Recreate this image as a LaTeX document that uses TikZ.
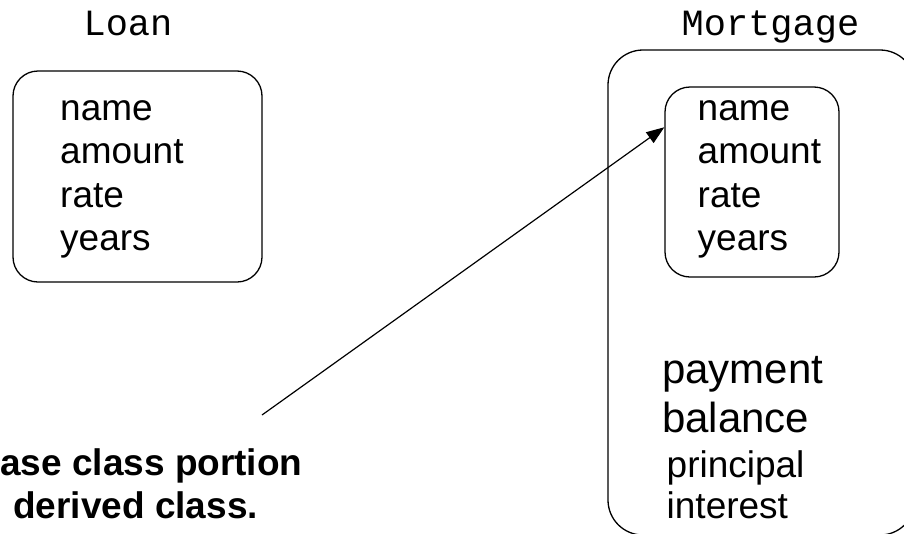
\documentclass[tikz,border=0pt]{standalone}
\usepackage{fontspec}
\setmainfont{Liberation Sans}
\setmonofont{Liberation Mono}
\usetikzlibrary{arrows.meta}
\tikzset{%
	class box/.style={
		rectangle,
		draw=black,
		line width=1.3pt,
		rounded corners=25pt
	},
	class label/.style={
		anchor=base,
		inner sep=0pt,
		font=\ttfamily\fontsize{37}{37}\selectfont
	},
	field/.style={
		anchor=base west,
		inner sep=0pt,
		font=\fontsize{37}{37}\selectfont
	},
	big field/.style={
		field,
		font=\fontsize{42}{42}\selectfont
	},
	note/.style={
		anchor=base west,
		inner sep=0pt,
		font=\bfseries\fontsize{37}{37}\selectfont
	},
}

\begin{document}
\begin{tikzpicture}[x=1pt,y=-1pt]
		\useasboundingbox (0,0) rectangle (904,533);
		% Loan
		\node[class label] (loan-label) at (128,35) {Loan};
		\node[class box, minimum width=249pt, minimum height=211pt] (loan) at (137.5,176.5) {};
		\foreach \f [count=\y] in {name,amount,rate,years}
		\node [field] (loan-\f) at (60, 76.5 + \y*43.5) {\f};
		
		% Mortgage
		\node[class label] (mortgage-label) at (770.5,35) {Mortgage};
		\node[class box, rounded corners=35pt, minimum width=307pt, minimum height=485pt] (mortgage) at (761.5,292.5) {};
		\node[class box, minimum width=174pt, minimum height=190pt] (loan-part) at (752,182) {};
		\foreach \f [count=\y] in {name,amount,rate,years}
		\node [field] (part-\f) at (697.5, 76.5 + \y*43.5) {\f};
		\node [big field] (payment) at (662,383) {payment};
		\node [big field] (balance) at (662,432) {balance};
		\node [field] (principal) at (666.5,477) {principal};
		\node [field] (interest) at (666.5,518) {interest};
		
		% Note
		\node[note] (note-1) at (0,475) {ase class portion};
		\node[note] (note-2) at (13,518) {derived class.};
		\coordinate (note-tail) at (262,415);
		
		%Edges
		\draw[-{Triangle[length=18pt,width=13pt]}, line width=1.2pt] (note-tail) -- (loan-part.148);
		
		\end{tikzpicture}
\end{document}
